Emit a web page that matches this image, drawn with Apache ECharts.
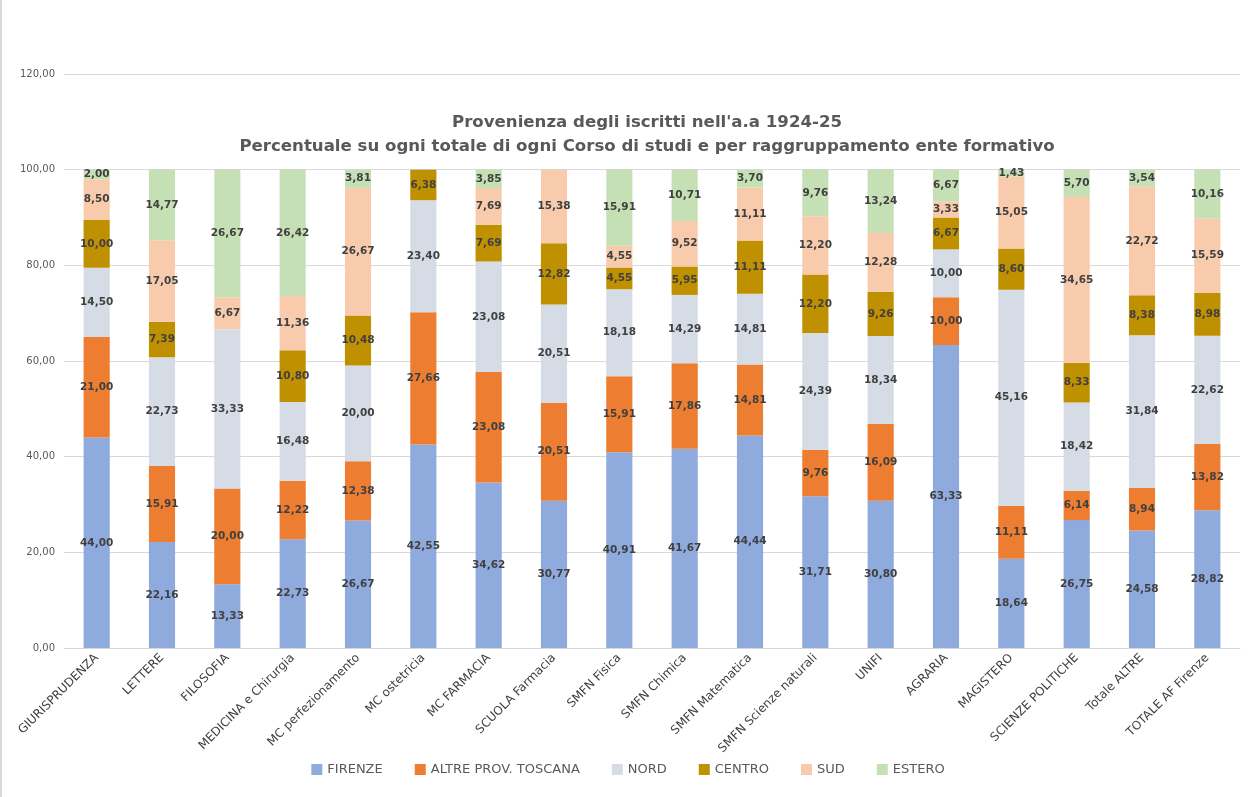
<!DOCTYPE html>
<html><head><meta charset="utf-8">
<script src="https://cdn.jsdelivr.net/npm/echarts@6/dist/echarts.min.js"></script>
<style>html,body{margin:0;padding:0;background:#fff}#c{width:1254px;height:797px;box-sizing:border-box;border-left:2px solid #d9d9d9}</style>
</head><body><div id="c"></div>
<script>
const categories = ['GIURISPRUDENZA','LETTERE','FILOSOFIA','MEDICINA e Chirurgia','MC perfezionamento','MC ostetricia','MC FARMACIA','SCUOLA Farmacia','SMFN Fisica','SMFN Chimica','SMFN Matematica','SMFN Scienze naturali','UNIFI','AGRARIA','MAGISTERO','SCIENZE POLITICHE','Totale ALTRE','TOTALE AF Firenze'];
const seriesNames = ['FIRENZE','ALTRE PROV. TOSCANA','NORD','CENTRO','SUD','ESTERO'];
const firenze = [44.00,22.16,13.33,22.73,26.67,42.55,34.62,30.77,40.91,41.67,44.44,31.71,30.80,63.33,18.64,26.75,24.58,28.82];
const altreToscana = [21.00,15.91,20.00,12.22,12.38,27.66,23.08,20.51,15.91,17.86,14.81,9.76,16.09,10.00,11.11,6.14,8.94,13.82];
const nord = [14.50,22.73,33.33,16.48,20.00,23.40,23.08,20.51,18.18,14.29,14.81,24.39,18.34,10.00,45.16,18.42,31.84,22.62];
const centro = [10.00,7.39,0,10.80,10.48,6.38,7.69,12.82,4.55,5.95,11.11,12.20,9.26,6.67,8.60,8.33,8.38,8.98];
const sud = [8.50,17.05,6.67,11.36,26.67,0,7.69,15.38,4.55,9.52,11.11,12.20,12.28,3.33,15.05,34.65,22.72,15.59];
const estero = [2.00,14.77,26.67,26.42,3.81,0,3.85,0,15.91,10.71,3.70,9.76,13.24,6.67,1.43,5.70,3.54,10.16];
const yTicks = {min:0,max:120,interval:20};

const colors = ['#8FAADC','#ED7D31','#D6DCE5','#BF9000','#F8CBAD','#C5E0B4'];
const values = [firenze, altreToscana, nord, centro, sud, estero];
const fmt = v => v.toFixed(2).replace('.', ',');

const chart = echarts.init(document.getElementById('c'));
chart.setOption({
  animation:false,
  color: colors,
  title: {
    text: "Provenienza degli iscritti nell'a.a 1924-25\nPercentuale su ogni totale di ogni Corso di studi e per raggruppamento ente formativo",
    left: 640, top: 106, textAlign: 'center',
    textStyle: {fontFamily:'DejaVu Sans', fontWeight:'bold', fontSize:16.6, color:'#595959', lineHeight:24}
  },
  legend: {
    bottom: 16, left: 'center', itemWidth: 11, itemHeight: 11, itemGap: 32, icon: 'rect',
    textStyle: {fontFamily:'DejaVu Sans', fontSize:13, color:'#595959'},
    data: seriesNames
  },
  grid: {left: 62, right: 14, top: 74, bottom: 149, containLabel: false},
  xAxis: {
    type: 'category', data: categories,
    axisLine: {lineStyle:{color:'#D9D9D9'}}, axisTick: {show:false},
    axisLabel: {rotate:45, interval:0, fontFamily:'DejaVu Sans', fontSize:12, color:'#404040', margin:8}
  },
  yAxis: {
    type: 'value', min: yTicks.min, max: yTicks.max, interval: yTicks.interval,
    axisLine:{show:false}, axisTick:{show:false},
    splitLine: {lineStyle:{color:'#D9D9D9'}},
    axisLabel: {formatter: v => fmt(v), fontFamily:'DejaVu Sans', fontSize:10, color:'#595959', margin:9}
  },
  series: seriesNames.map((n,i)=>({
    name:n, type:'bar', stack:'tot', barWidth:'40%',
    data: values[i],
    label: {show:true, position:'inside', formatter: p => p.value ? fmt(p.value) : '',
      fontFamily:'DejaVu Sans', fontWeight:'bold', fontSize:10.5, color:'#404040'}
  }))
});
</script></body></html>
